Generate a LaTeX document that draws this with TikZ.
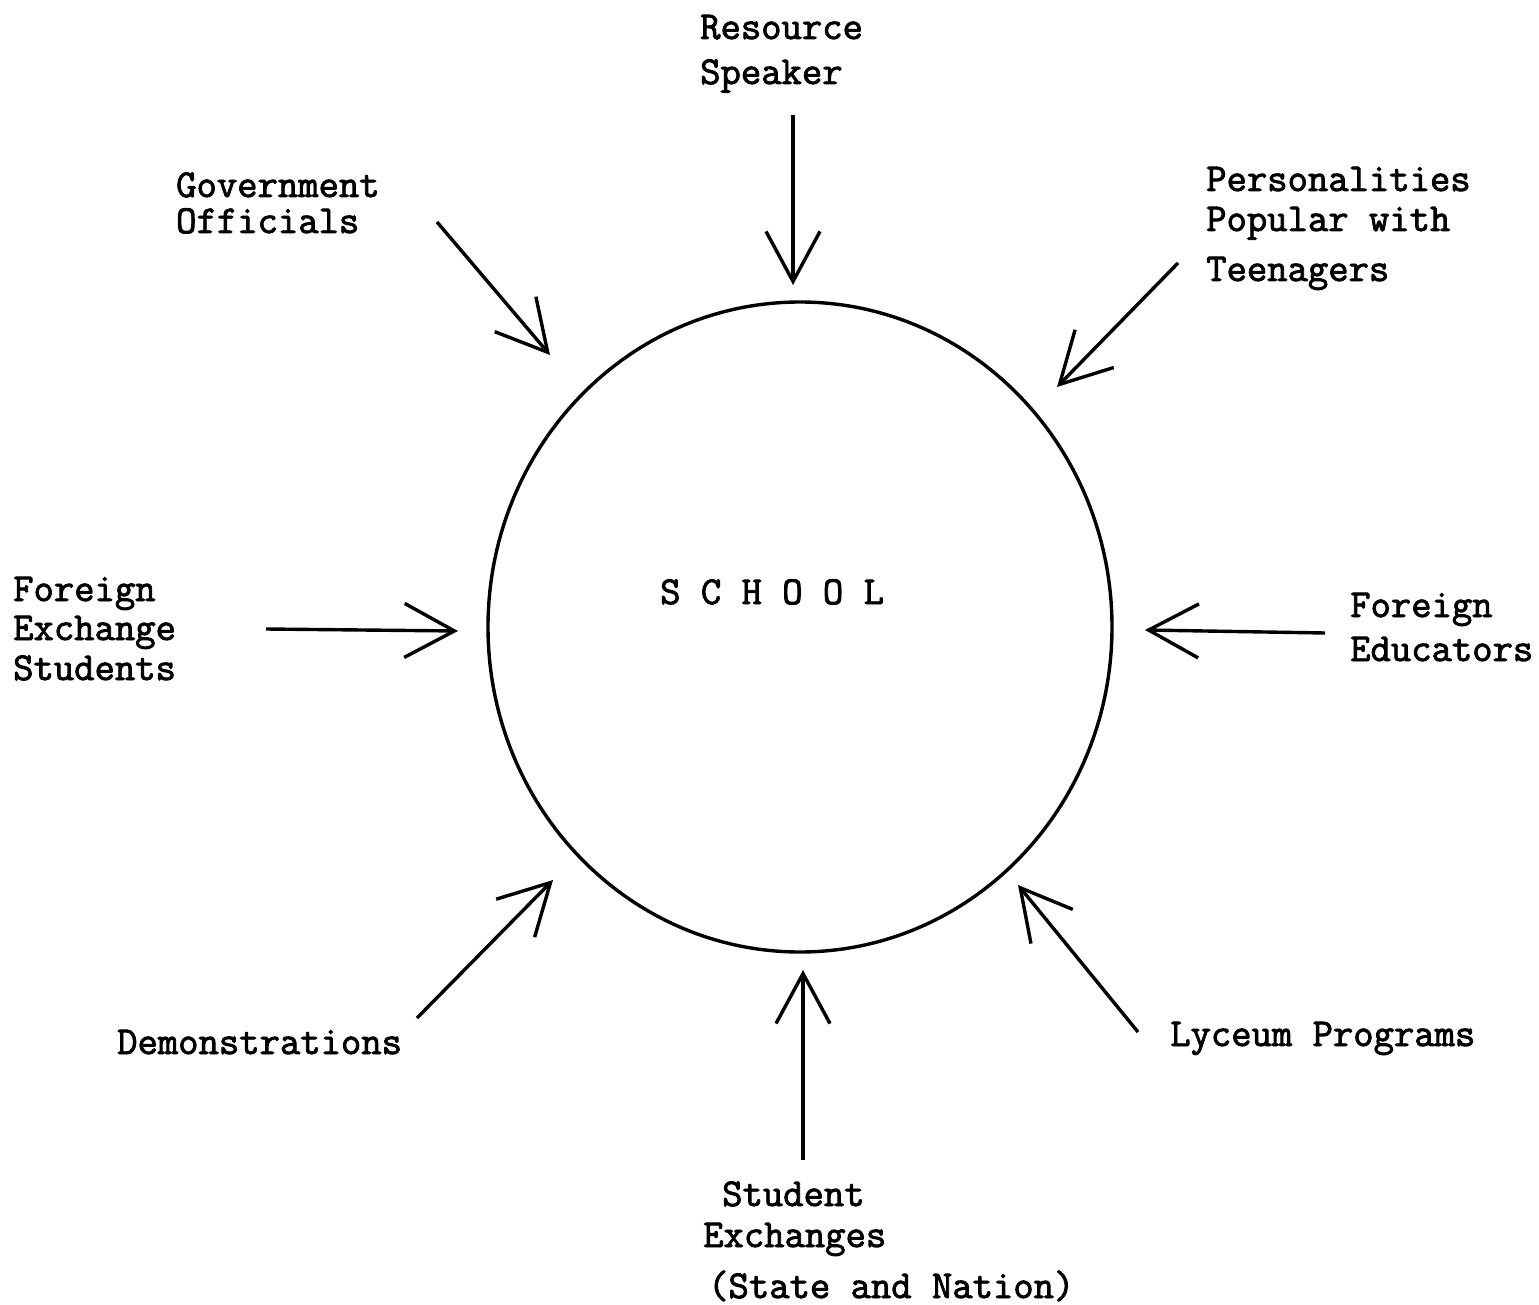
\documentclass[tikz,border=0pt]{standalone}
\usepackage{fontspec}
\setmonofont{Latin Modern Mono}[FakeBold=2.2]
\usetikzlibrary{arrows.meta}
\tikzset{
  x=1pt,y=-1pt,
  lbl/.style={font=\ttfamily\fontsize{39.5}{41}\selectfont, anchor=base west, inner sep=0pt, align=left},
  inarrow/.style={line width=3.4pt, -{Straight Barb[length=50pt,width=54pt,line width=3.4pt]}},
}
\begin{document}
\begin{tikzpicture}
\useasboundingbox (0,0) rectangle (1539,1305);
% school
\draw[line width=3.4pt] (800,627) ellipse [x radius=312, y radius=325];
\node[lbl] (school) at (660,604) {S C H O O L};
% labels
\node[lbl] (res1) at (700,39) {Resource};
\node[lbl] (res2) at (700,84) {Speaker};
\node[lbl] (gov1) at (176,197) {Government};
\node[lbl] (gov2) at (176,233) {Officials};
\node[lbl] (per1) at (1206,191) {Personalities};
\node[lbl] (per2) at (1206,231) {Popular with};
\node[lbl] (per3) at (1206,281) {Teenagers};
\node[lbl] (fes1) at (13,601) {Foreign};
\node[lbl] (fes2) at (13,640) {Exchange};
\node[lbl] (fes3) at (13,680) {Students};
\node[lbl] (fed1) at (1350,617) {Foreign};
\node[lbl] (fed2) at (1350,661) {Educators};
\node[lbl] (dem) at (117,1054) {Demonstrations};
\node[lbl] (lyc) at (1170,1046) {Lyceum Programs};
\node[lbl] (stu1) at (722,1206) {Student};
\node[lbl] (stu2) at (703,1247) {Exchanges};
\node[lbl] (stu3) at (708,1298) {(State and Nation)};
% arrow endpoints
\coordinate (a1s) at (793,115);  \coordinate (a1e) at (793,285);
\coordinate (a2s) at (437,222);  \coordinate (a2e) at (550,355);
\coordinate (a3s) at (1178,263); \coordinate (a3e) at (1057,387);
\coordinate (a4s) at (266,629);  \coordinate (a4e) at (458,631);
\coordinate (a5s) at (1325,633); \coordinate (a5e) at (1145,630);
\coordinate (a6s) at (417,1018); \coordinate (a6e) at (553,880);
\coordinate (a7s) at (1138,1032);\coordinate (a7e) at (1018,885);
\coordinate (a8s) at (803,1160); \coordinate (a8e) at (803,970);
\draw[inarrow] (a1s) -- (a1e);
\draw[inarrow] (a2s) -- (a2e);
\draw[inarrow] (a3s) -- (a3e);
\draw[inarrow] (a4s) -- (a4e);
\draw[inarrow] (a5s) -- (a5e);
\draw[inarrow] (a6s) -- (a6e);
\draw[inarrow] (a7s) -- (a7e);
\draw[inarrow] (a8s) -- (a8e);
\end{tikzpicture}
\end{document}
